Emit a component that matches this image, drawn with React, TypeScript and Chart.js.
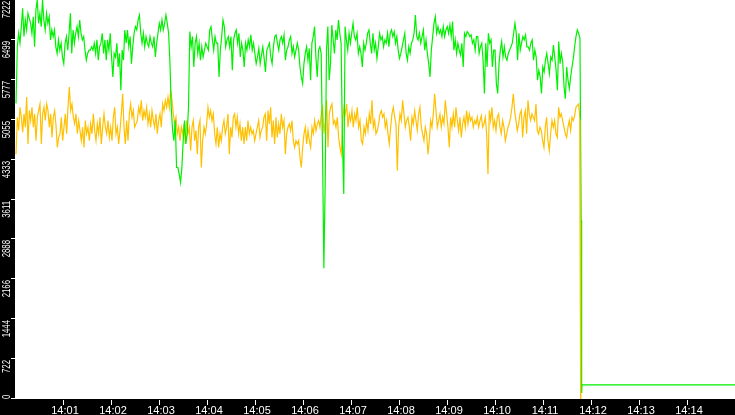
import { useEffect, useRef } from "react";
import { Chart, registerables } from "chart.js";

Chart.register(...registerables);

// time axis in seconds after 14:00:00
const X_MAX = 900;
const Y_MAX = 7222;

const xTickLabels = ["14:01", "14:02", "14:03", "14:04", "14:05", "14:06", "14:07", "14:08", "14:09", "14:10", "14:11", "14:12", "14:13", "14:14"];
const yTickLabels = ["0", "722", "1444", "2166", "2888", "3611", "4333", "5055", "5777", "6499", "7222"];

// samples run from 14:00:01 to 14:11:46
const SAMPLE_START = 1.25;
const SAMPLE_END = 706.2;

const greenValues = [
	5350, 6375, 6620, 6440, 6740, 7070, 6560, 6860, 6680, 6980, 6890, 6800, 6620, 6920, 6375, 7040, 7225, 6800, 6980, 6740, 7225, 6860, 6680, 6980, 6800, 6920, 6500, 6680, 6560, 6680, 6375, 6255, 6500, 6315, 6440, 6190, 6070, 6440, 6560, 6315, 6620, 6980, 6255, 6680, 6440, 6620, 6740, 6560, 6860, 6620, 6500, 6560, 6315, 6133, 6255, 6315, 6315, 6375, 6315, 6440, 6255, 6500, 6133, 6375, 6440, 6620, 6255, 6500, 6133, 6500, 6315, 6620, 6190, 5830, 6255, 6190, 6440, 6010, 6255, 5587, 6315, 6133, 6680, 6440, 6680, 6375, 6560, 6070, 6375, 6620, 6740, 6680, 6860, 6950, 6620, 6440, 6620, 6375, 6560, 6440, 6375, 6560, 6440, 6375, 6560, 6190, 6440, 6620, 6800, 6680, 6860, 6680, 6800, 6950, 6800, 6620, 6100, 5280, 4860, 4675, 5040, 4190, 4190, 4070, 3920, 4190, 4675, 5040, 4615, 4800, 5280, 6650, 6375, 6560, 6010, 6440, 6560, 6255, 6440, 6133, 6375, 6190, 6315, 6440, 6375, 6315, 6680, 6740, 6500, 6315, 6560, 6440, 6440, 5830, 6315, 6560, 6860, 6740, 6375, 6500, 6560, 6375, 6560, 5950, 6500, 6620, 6680, 6440, 6620, 6190, 6440, 6315, 6010,
	6440, 6315, 6500, 6375, 6590, 6315, 6440, 6255, 6070, 6190, 6345, 6070, 6225, 6375, 6165, 5920, 6315, 6375, 6440, 6190, 6070, 6375, 6560, 6590, 6440, 6315, 6500, 6560, 6440, 6590, 6133, 6315, 6375, 6500, 6560, 6255, 6375, 6190, 6315, 6440, 6315, 6010, 5830, 5710, 6070, 6255, 6375, 6133, 6345, 5770, 6440, 6560, 6740, 6190, 5830, 6315, 6375, 6255, 4495, 2366, 3890, 6315, 6740, 5770, 6070, 6770, 6500, 6255, 6680, 6500, 6860, 6620, 6440, 4677, 3712, 6740, 6500, 6315, 6620, 6440, 6620, 6800, 6560, 6500, 6620, 6255, 6375, 6255, 6010, 6440, 6315, 6440, 6620, 6680, 6440, 6255, 6620, 6315, 6440, 6165, 6375, 6620, 6500, 6560, 6375, 6500, 6440, 6620, 6375, 6620, 6680, 6560, 6650, 6440, 6560, 6315, 6165, 6255, 6375, 6500, 6620, 6255, 6133, 6375, 6255, 6440, 6500, 6620, 6950, 6560, 6500, 6620, 6440, 6560, 6680, 6315, 6500, 6255, 6070, 5830, 6315, 6560, 6800, 6920, 6620, 6740, 6620, 6680, 6560, 6740, 6560, 6680, 6740, 6620, 6770, 6560, 6830, 6315, 6500, 6255, 6440, 6315, 6225, 6440, 6010, 6620, 6560, 6650, 6620, 6560, 6590, 6440, 6500, 6315, 6560, 6560, 6255, 6375, 6440, 6133, 5530,
	6440, 6010, 6620, 6440, 6500, 6010, 6315, 6315, 5710, 5530, 6070, 6315, 6470, 6190, 6375, 6190, 6133, 6255, 6315, 6375, 6440, 6620, 6800, 6620, 6133, 6620, 6315, 6440, 6560, 6500, 6590, 6375, 6375, 6315, 6440, 6500, 6133, 6315, 6190, 5770, 5950, 5830, 5530, 6010, 5920, 6133, 6255, 6070, 5890, 6190, 6133, 6405, 6190, 5950, 5587, 6470, 6070, 6255, 6100, 5650, 5435, 6010, 5770, 5620, 5830, 6010, 6165, 6375, 6560, 6680, 6620, 6530,
];

const orangeValues = [
	4430, 5100, 4860, 5280, 5100, 4830, 5160, 4920, 5465, 4615, 5220, 5040, 5280, 4920, 5160, 4675, 5100, 5220, 5340, 4615, 5160, 5280, 5040, 5340, 5220, 4920, 5160, 4735, 5100, 5220, 4950, 4555, 4735, 4800, 5100, 4675, 4920, 5160, 4800, 5280, 5645, 5220, 5340, 5100, 4980, 5160, 4800, 5040, 4860, 4675, 4920, 4555, 5040, 4800, 4920, 4675, 4980, 4800, 5160, 4860, 4675, 4980, 4800, 5100, 4615, 4920, 5160, 4920, 4800, 5040, 4735, 4920, 4675, 5100, 5280, 4800, 4920, 4615, 4860, 5160, 5525, 4920, 4615, 5040, 4675, 5160, 5340, 5100, 5220, 4920, 4980, 5040, 5280, 5160, 5405, 5040, 5220, 5100, 5280, 4980, 5160, 4920, 5220, 5040, 4920, 5160, 4800, 5040, 5160, 4920, 5340, 5220, 5405, 5280, 5465, 5280, 5585, 5405, 5160, 4980, 5100, 4800, 4920, 4675, 4920, 4800, 4980, 4615, 5040, 4800, 4920, 4495, 4920, 5040, 4675, 4860, 4430, 4920, 5040, 4190, 4675, 4920, 4800, 4980, 5280, 5100, 5220, 5040, 5160, 4800, 4615, 4920, 4555, 4800, 4675, 4920, 5040, 4800, 4920, 5160, 4430, 4920, 4735, 5100, 5160, 4920, 5100, 4800, 4980, 4675, 4920, 4615,
	4920, 4675, 5040, 4800, 4920, 4800, 4860, 4675, 4800, 4920, 5040, 4735, 4860, 4920, 5100, 5160, 4675, 5220, 4980, 5280, 4735, 5040, 4615, 5100, 4735, 4980, 4800, 5160, 4920, 5040, 4430, 4800, 4920, 4980, 4860, 5040, 4675, 4555, 4675, 4615, 4675, 4370, 4190, 4555, 4800, 4920, 4615, 4860, 4675, 4555, 4920, 4800, 5040, 4860, 4980, 5040, 4920, 5160, 5280, 4800, 5040, 5405, 4555, 5160, 5280, 5340, 4980, 5040, 4920, 5100, 4735, 4555, 4430, 5040, 5280, 5160, 5340, 4920, 5160, 5040, 5220, 4920, 5160, 5040, 5280, 4920, 5040, 4675, 4615, 4920, 4800, 5040, 4860, 5160, 4980, 5405, 4920, 5040, 4800, 4860, 4980, 5160, 5220, 5100, 5160, 4920, 5040, 4800, 4615, 4920, 5160, 5280, 5100, 4980, 4130, 4920, 5160, 5040, 5405, 5160, 4920, 5040, 5100, 4920, 4675, 5100, 4980, 5220, 5040, 4860, 5160, 5280, 4920, 4800, 4675, 4920, 4800, 4430, 4675, 5040, 4920, 5160, 5525, 5220, 4920, 5040, 5160, 4920, 5100, 4980, 5405, 5160, 4920, 4555, 5100, 4920, 5160, 4920, 5280, 5040, 4860, 5100, 4735, 4980, 5100, 4920, 5220, 4980, 5160, 5040, 5100, 4920, 5040, 4980, 5100, 4920, 5040, 5130, 4920, 4980,
	5100, 4800, 4070, 5220, 5040, 5280, 4920, 5040, 4860, 5100, 5160, 4920, 4800, 5040, 4920, 4675, 4800, 4920, 4980, 5100, 5280, 5525, 5220, 5040, 4860, 4980, 5160, 5220, 4735, 5100, 5220, 4800, 5405, 5160, 5040, 5160, 5100, 5040, 5340, 4860, 4800, 4920, 4860, 4675, 4555, 4920, 5100, 4675, 4495, 4800, 5040, 4920, 5040, 4800, 4735, 5280, 5100, 5160, 5040, 4920, 4800, 4735, 4920, 5040, 4860, 5100, 5040, 5130, 5280, 5310, 5340, 5060,
];

// readings after the feed drops out at 14:11:47
const greenTailTimes = [707.7, 708.0, 708.2, 708.7, 708.8, 900];
const greenTailValues = [3230, 2540, 110, 110, 254, 254];
const orangeTailTimes = [706.6, 706.9, 707.2];
const orangeTailValues = [3200, 2540, 0];

const toPoints = (vals: number[], tailT: number[], tailV: number[]) => {
	const pts = vals.map((v, i) => ({
		x: SAMPLE_START + (i * (SAMPLE_END - SAMPLE_START)) / (vals.length - 1),
		y: v,
	}));
	tailT.forEach((t, i) => pts.push({ x: t, y: tailV[i] }));
	return pts;
};

const axisPlugin = {
	id: "blackAxes",
	beforeDraw(chart: any) {
		const { ctx, chartArea, width, height } = chart;
		ctx.save();
		ctx.fillStyle = "#000";
		ctx.fillRect(0, 0, width, height);
		ctx.fillStyle = "#fff";
		ctx.fillRect(chartArea.left, chartArea.top, chartArea.right - chartArea.left, chartArea.bottom - chartArea.top);
		ctx.restore();
	},
	afterDraw(chart: any) {
		const { ctx, chartArea } = chart;
		const xs = chart.scales.x;
		const ys = chart.scales.y;
		ctx.save();
		ctx.fillStyle = "#fff";

		// y axis: rotated labels ending at the tick
		ctx.font = '10px "Liberation Sans", Arial, sans-serif';
		yTickLabels.forEach((label, i) => {
			const py = Math.round(ys.getPixelForValue((i * Y_MAX) / 10));
			ctx.fillRect(chartArea.left - 4, py - 1, 4, 1);
			const w = ctx.measureText(label).width * 0.78;
			let end = py + 1;
			if (end + w > chartArea.bottom) end = chartArea.bottom - w;
			ctx.save();
			ctx.translate(chartArea.left - 5, end);
			ctx.rotate(-Math.PI / 2);
			ctx.scale(0.78, 1);
			ctx.textAlign = "right";
			ctx.textBaseline = "alphabetic";
			ctx.fillText(label, 0, 0);
			ctx.restore();
		});

		// x axis
		ctx.font = '11px "Liberation Sans", Arial, sans-serif';
		ctx.textAlign = "center";
		ctx.textBaseline = "alphabetic";
		xTickLabels.forEach((label, i) => {
			const px = Math.round(xs.getPixelForValue((i + 1) * 60));
			ctx.fillRect(px, chartArea.bottom + 1, 1, 5);
			ctx.fillText(label, px + 2, chartArea.bottom + 15);
		});
		ctx.restore();
	},
};

const App = () => {
	const canvasRef = useRef<HTMLCanvasElement>(null);
	const chartRef = useRef<Chart | null>(null);

	useEffect(() => {
		if (!canvasRef.current) return;
		chartRef.current?.destroy();

		const orangePts = toPoints(orangeValues, orangeTailTimes, orangeTailValues);

		chartRef.current = new Chart(canvasRef.current, {
			type: "line",
			data: {
				datasets: [
					{
						// the orange drop-out is drawn over the green one
						label: "orange drop",
						data: orangePts.slice(orangeValues.length - 1),
						borderColor: "#ffc000",
						borderWidth: 1.2,
						pointRadius: 0,
						tension: 0,
						fill: false,
						order: 0,
					},
					{
						label: "green",
						data: toPoints(greenValues, greenTailTimes, greenTailValues),
						borderColor: "#00f000",
						borderWidth: 1.2,
						pointRadius: 0,
						tension: 0,
						fill: false,
						order: 1,
					},
					{
						label: "orange",
						data: orangePts,
						borderColor: "#ffc000",
						borderWidth: 1.2,
						pointRadius: 0,
						tension: 0,
						fill: false,
						order: 2,
					},
				],
			},
			options: {
				responsive: false,
				animation: false,
				layout: { padding: 0 },
				plugins: {
					legend: { display: false },
					tooltip: { enabled: false },
				},
				scales: {
					x: {
						type: "linear",
						min: 0,
						max: X_MAX,
						ticks: { display: false },
						grid: { display: false },
						border: { display: false },
						afterFit: (s: any) => {
							s.height = 16;
						},
					},
					y: {
						type: "linear",
						min: 0,
						max: Y_MAX,
						ticks: { display: false },
						grid: { display: false },
						border: { display: false },
						afterFit: (s: any) => {
							s.width = 15;
						},
					},
				},
			},
			plugins: [axisPlugin],
		});

		return () => {
			chartRef.current?.destroy();
			chartRef.current = null;
		};
	}, []);

	return (
		<div style={{ position: "absolute", left: 0, top: 0, width: 735, height: 415, background: "#000" }}>
			<canvas ref={canvasRef} width={735} height={415} style={{ display: "block" }} />
		</div>
	);
};

export default App;
